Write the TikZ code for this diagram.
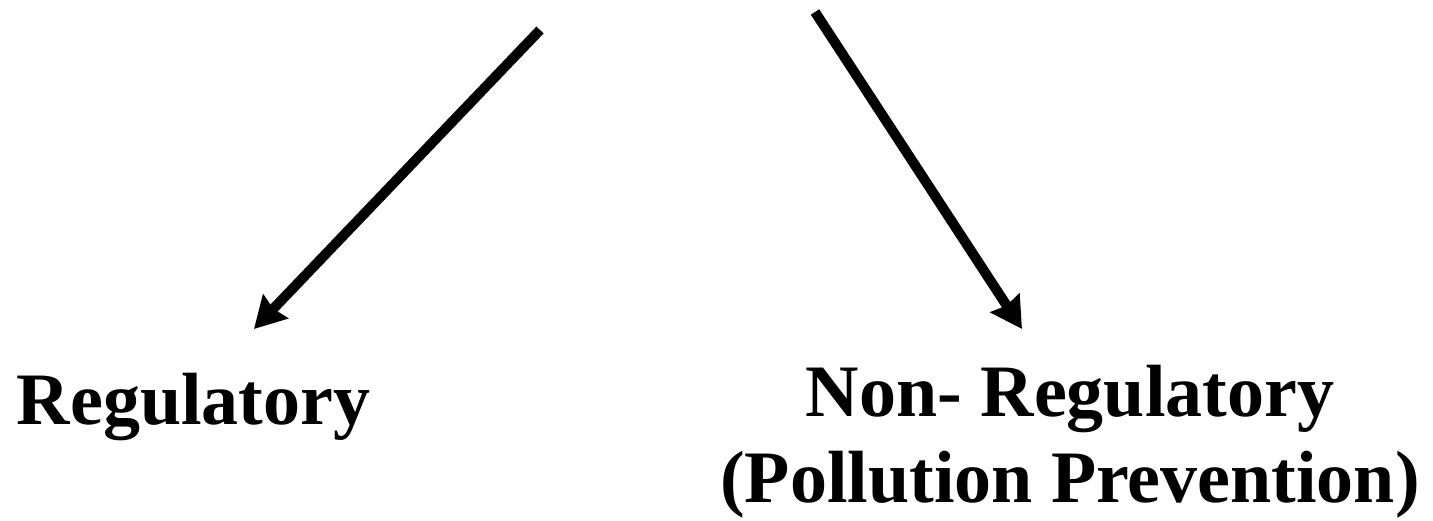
\documentclass[tikz,border=0pt]{standalone}
\usepackage{fontspec}
\setmainfont{Liberation Serif}
\usetikzlibrary{arrows.meta}

\begin{document}
\begin{tikzpicture}[
    >={Stealth[length=0.62cm, width=0.68cm, inset=0.06cm]},
    branch/.style={->, line width=0.2cm, draw=black},
    lbl/.style={inner sep=0pt, anchor=base, align=center, font=\bfseries\fontsize{42.1}{49.5}\selectfont},
]
\useasboundingbox (0,0) rectangle (28.66,10.42);

\coordinate (srcL) at (10.8,9.82);
\coordinate (tipL) at (5.08,3.84);
\coordinate (srcR) at (16.3,10.18);
\coordinate (tipR) at (20.44,3.84);

\node[lbl] (reg) at (3.87,1.92) {Regulatory};
\node[lbl] (nonreg) at (21.4,0.36) {Non- Regulatory\\(Pollution Prevention)};

\draw[branch] (srcL) -- (tipL);
\draw[branch] (srcR) -- (tipR);

\end{tikzpicture}
\end{document}
